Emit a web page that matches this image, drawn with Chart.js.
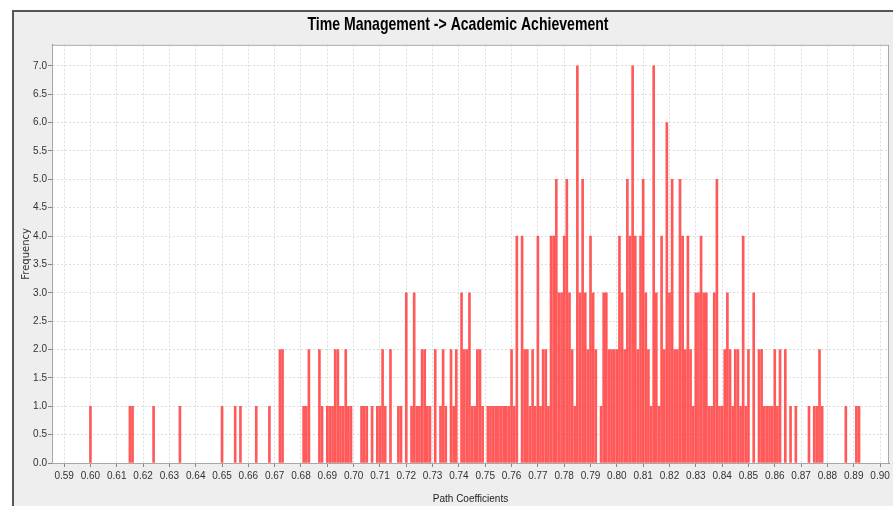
<!DOCTYPE html>
<html>
<head>
<meta charset="utf-8">
<script src="https://cdn.jsdelivr.net/npm/chart.js@4/dist/chart.umd.min.js"></script>
<style>
  html, body { margin: 0; padding: 0; background: #ffffff; overflow: hidden; width: 893px; height: 506px; }
  #panel { position: absolute; left: 12px; top: 10px; width: 900px; height: 500px;
           background: #eeeeee; border-left: 2px solid #555555; border-top: 2px solid #555555; }
  #chart { position: absolute; left: 0; top: 0; }
</style>
</head>
<body>
<div id="panel"><canvas id="chart" width="888" height="494"></canvas></div>
<script>
// bootstrap path coefficients (bin centres) and how often each occurred
var pathCoefficients = [
  0.600, 0.615, 0.616, 0.624, 0.634, 0.650, 0.655, 0.657, 0.663, 0.668,
  0.672, 0.673, 0.681, 0.682, 0.683, 0.687, 0.688,
  0.690, 0.691, 0.692, 0.693, 0.694, 0.695, 0.696, 0.697, 0.698, 0.699,
  0.703, 0.704, 0.705, 0.707, 0.709,
  0.710, 0.711, 0.712, 0.714, 0.717, 0.718,
  0.720, 0.722, 0.723, 0.724, 0.725, 0.726, 0.727, 0.728, 0.729,
  0.731, 0.733, 0.734, 0.735, 0.737, 0.738, 0.739,
  0.741, 0.742, 0.743, 0.744, 0.745, 0.746, 0.747, 0.748, 0.749,
  0.751, 0.752, 0.753, 0.754, 0.755, 0.756, 0.757, 0.758, 0.759,
  0.760, 0.761, 0.762, 0.764, 0.765, 0.766, 0.767, 0.768, 0.769,
  0.770, 0.771, 0.772, 0.773, 0.774, 0.775, 0.776, 0.777, 0.778, 0.779,
  0.780, 0.781, 0.782, 0.783, 0.784, 0.785, 0.786, 0.787, 0.788, 0.789,
  0.790, 0.791, 0.792, 0.794, 0.795, 0.796, 0.797, 0.798, 0.799,
  0.800, 0.801, 0.802, 0.803, 0.804, 0.805, 0.806, 0.807, 0.808, 0.809,
  0.810, 0.811, 0.812, 0.813, 0.814, 0.815, 0.816, 0.817, 0.818, 0.819,
  0.820, 0.821, 0.822, 0.823, 0.824, 0.825, 0.826, 0.827, 0.828, 0.829,
  0.830, 0.831, 0.832, 0.833, 0.834, 0.835, 0.836, 0.837, 0.838, 0.839,
  0.840, 0.841, 0.842, 0.843, 0.844, 0.845, 0.846, 0.847, 0.848, 0.849,
  0.850, 0.852, 0.854, 0.855, 0.856, 0.857, 0.858, 0.859,
  0.860, 0.861, 0.862, 0.864, 0.866, 0.868,
  0.873, 0.875, 0.876, 0.877, 0.878,
  0.887, 0.891, 0.892
];
var frequencies = [
  1, 1, 1, 1, 1, 1, 1, 1, 1, 1,
  2, 2, 1, 1, 2, 2, 1,
  1, 1, 1, 2, 2, 1, 1, 2, 1, 1,
  1, 1, 1, 1, 1,
  1, 2, 1, 2, 1, 1,
  3, 1, 3, 1, 1, 2, 2, 1, 1,
  2, 1, 2, 1, 2, 1, 2,
  3, 2, 2, 3, 1, 1, 2, 2, 1,
  1, 1, 1, 1, 1, 1, 1, 1, 1,
  2, 1, 4, 4, 2, 2, 1, 2, 1,
  4, 1, 2, 2, 1, 4, 4, 5, 3, 3,
  4, 5, 3, 2, 1, 7, 3, 5, 3, 2,
  4, 3, 2, 1, 3, 3, 2, 2, 2,
  2, 4, 3, 2, 5, 4, 7, 4, 2, 4,
  5, 3, 2, 1, 7, 3, 1, 4, 2, 6,
  3, 5, 2, 2, 5, 4, 2, 4, 2, 1,
  3, 3, 4, 3, 3, 1, 1, 3, 5, 1,
  1, 2, 3, 2, 1, 2, 2, 1, 4, 1,
  2, 3, 2, 2, 1, 1, 1, 1,
  2, 1, 2, 2, 1, 1,
  1, 1, 1, 2, 1,
  1, 1, 1
];
var xTicks = [0.59, 0.60, 0.61, 0.62, 0.63, 0.64, 0.65, 0.66, 0.67, 0.68, 0.69, 0.70,
  0.71, 0.72, 0.73, 0.74, 0.75, 0.76, 0.77, 0.78, 0.79, 0.80, 0.81, 0.82, 0.83,
  0.84, 0.85, 0.86, 0.87, 0.88, 0.89, 0.90];
var yTicks = [0, 0.5, 1, 1.5, 2, 2.5, 3, 3.5, 4, 4.5, 5, 5.5, 6, 6.5, 7];

var points = pathCoefficients.map(function(c, i) {
  return { x: c, y: frequencies[i] };
});

var sans = "'Liberation Sans', Arial, sans-serif";

var plotFrame = {
  id: 'plotFrame',
  afterLayout: function(chart) {
    // the reference title is a tall, condensed face: squeeze it horizontally
    var tb = chart.titleBlock;
    if (tb && !tb._squeezed) {
      var orig = tb.draw.bind(tb);
      tb.draw = function() {
        var ctx = chart.ctx, cx = (tb.left + tb.right) / 2;
        ctx.save();
        ctx.translate(chart.width / 2, 0);
        ctx.scale(0.74, 1);
        ctx.translate(-cx, 0);
        orig();
        ctx.restore();
      };
      tb._squeezed = true;
    }
  },
  beforeDraw: function(chart) {
    var a = chart.chartArea, ctx = chart.ctx;
    ctx.save();
    ctx.fillStyle = '#ffffff';
    ctx.fillRect(a.left, a.top, a.right - a.left, a.bottom - a.top);
    ctx.restore();
  },
  afterDraw: function(chart) {
    var a = chart.chartArea, ctx = chart.ctx;
    ctx.save();
    ctx.strokeStyle = '#a8a8a8';
    ctx.lineWidth = 1;
    ctx.strokeRect(a.left + 0.5, a.top + 0.5, a.right - a.left - 1, a.bottom - a.top);
    ctx.restore();
  }
};

new Chart(document.getElementById('chart'), {
  type: 'bar',
  data: {
    datasets: [{
      label: 'Frequency',
      data: points,
      backgroundColor: 'rgba(255, 60, 60, 0.85)',
      borderWidth: 0,
      barThickness: 2
    }]
  },
  options: {
    responsive: false,
    animation: false,
    layout: { padding: { left: 0, right: 13, top: 0, bottom: 0 } },
    plugins: {
      legend: { display: false },
      tooltip: { enabled: false },
      title: {
        display: true,
        text: 'Time Management -> Academic Achievement',
        color: '#000000',
        font: { family: sans, size: 19, weight: 'bold' },
        padding: { top: 1, bottom: 9 }
      }
    },
    scales: {
      x: {
        type: 'linear',
        offset: false,
        min: 0.5854,
        max: 0.9034,
        afterBuildTicks: function(s) { s.ticks = xTicks.map(function(v) { return { value: v }; }); },
        afterFit: function(s) { s.height = 43; },
        ticks: {
          autoSkip: false,
          maxRotation: 0,
          padding: 3,
          color: '#333333',
          font: { family: sans, size: 10 },
          callback: function(v) { return Number(v).toFixed(2); }
        },
        grid: { offset: false, color: '#dddddd', tickColor: '#888888', tickLength: 4 },
        border: { display: true, color: '#888888', dash: [2, 2] },
        title: {
          display: true,
          text: 'Path Coefficients',
          color: '#222222',
          font: { family: sans, size: 10 },
          padding: { top: 0, bottom: 1 }
        }
      },
      y: {
        min: 0,
        max: 7.37,
        afterBuildTicks: function(s) { s.ticks = yTicks.map(function(v) { return { value: v }; }); },
        afterFit: function(s) { s.width = 38; },
        ticks: {
          padding: 1,
          color: '#333333',
          font: { family: sans, size: 10 },
          callback: function(v) { return Number(v).toFixed(1); }
        },
        grid: { color: '#dddddd', tickColor: '#888888', tickLength: 4 },
        border: { display: true, color: '#888888', dash: [2, 2] },
        title: {
          display: true,
          text: 'Frequency',
          color: '#333333',
          font: { family: "'DejaVu Sans', sans-serif", size: 10 },
          padding: { top: 6, bottom: 0 }
        }
      }
    }
  },
  plugins: [plotFrame]
});
</script>
</body>
</html>
